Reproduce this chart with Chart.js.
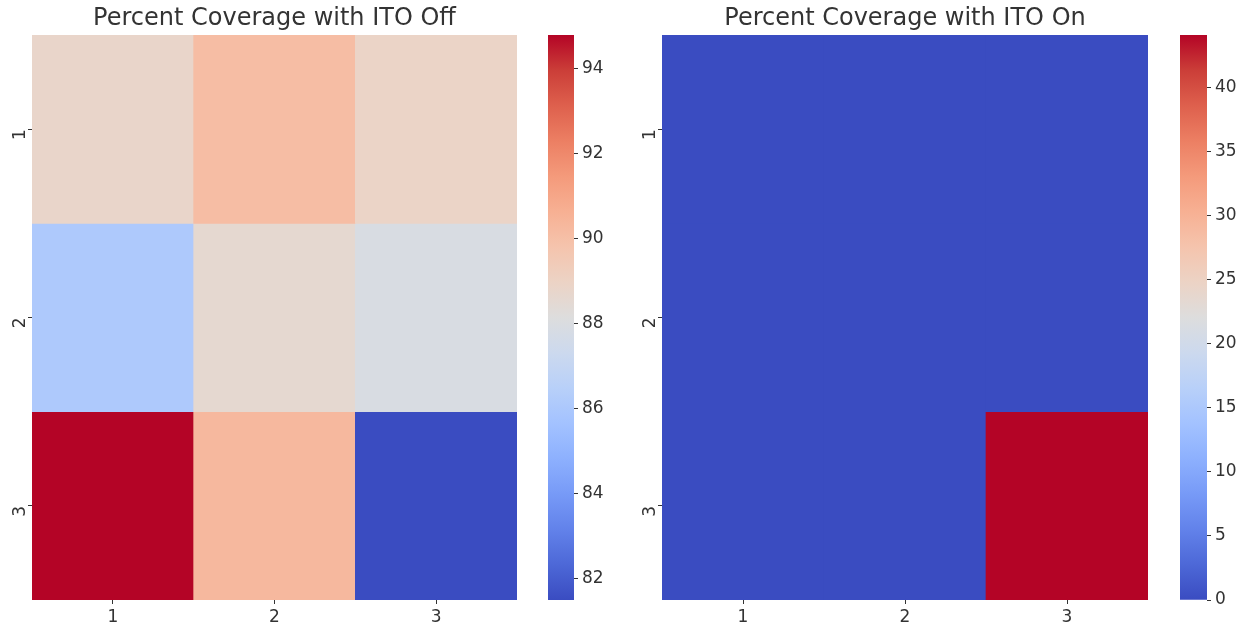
<!DOCTYPE html>
<html><head><meta charset="utf-8">
<script src="https://cdn.jsdelivr.net/npm/chart.js@4"></script>
<style>
body{margin:0;background:#fff;width:1245px;height:625px;position:relative;overflow:hidden}
.box{position:absolute;top:0;height:625px}
</style></head><body>
<div class="box" style="left:0;width:530px"><canvas id="h1"></canvas></div>
<div class="box" style="left:530px;width:90px"><canvas id="c1"></canvas></div>
<div class="box" style="left:630px;width:530px"><canvas id="h2"></canvas></div>
<div class="box" style="left:1160px;width:85px"><canvas id="c2"></canvas></div>
<script>
// ---- data ----
const rowLabels = ['1', '2', '3'];
const colLabels = ['1', '2', '3'];
const offValues = [
  [88.8, 90.1, 88.9],
  [86.1, 88.6, 87.9],
  [94.8, 90.3, 81.5]
];
const onValues = [
  [0, 0, 0],
  [0, 0, 0],
  [0, 0, 44.1]
];
const offTicks = [82, 84, 86, 88, 90, 92, 94];
const onTicks = [0, 5, 10, 15, 20, 25, 30, 35, 40];
const titles = ['Percent Coverage with ITO Off', 'Percent Coverage with ITO On'];

// ---- coolwarm colormap ----
const CW = [
  [58,76,193],[77,104,215],[98,130,234],[119,154,247],[141,176,254],[163,194,255],
  [184,208,249],[204,217,238],[221,221,221],[236,211,197],[245,196,173],[247,176,147],
  [244,154,123],[236,127,99],[222,96,77],[203,62,56],[180,4,38]
];
function coolwarm(t) {
  t = Math.max(0, Math.min(1, t));
  const p = t * (CW.length - 1), i = Math.min(CW.length - 2, Math.floor(p)), f = p - i;
  const c = CW[i].map((v, k) => Math.round(v + (CW[i + 1][k] - v) * f));
  return `rgb(${c[0]},${c[1]},${c[2]})`;
}

const TXT = '#333333';
const FONT = 'DejaVu Sans';
Chart.defaults.font.family = FONT;
Chart.defaults.color = TXT;

function heatmap(id, title, values, padRight) {
  const flat = values.flat();
  const vmin = Math.min(...flat), vmax = Math.max(...flat);
  const datasets = rowLabels.map((r, ri) => ({
    data: colLabels.map(() => [ri, ri + 1]),
    backgroundColor: values[ri].map(v => coolwarm((v - vmin) / (vmax - vmin))),
    borderWidth: 0,
    barPercentage: 1,
    categoryPercentage: 1
  }));
  new Chart(document.getElementById(id), {
    type: 'bar',
    data: { labels: colLabels, datasets },
    options: {
      responsive: true, maintainAspectRatio: false, animation: false,
      layout: { padding: { left: 0, right: padRight, top: 0, bottom: 0 } },
      plugins: {
        legend: { display: false }, tooltip: { enabled: false },
        title: { display: true, text: title, fullSize: false, color: TXT,
          font: { size: 24, weight: 'normal', family: FONT }, padding: { top: 4, bottom: 2.2 } }
      },
      scales: {
        x: {
          stacked: true,
          grid: { display: true, drawOnChartArea: false, offset: false, tickLength: 4, color: TXT },
          border: { display: false },
          ticks: { font: { size: 17 }, color: TXT, padding: 3, maxRotation: 0 },
          afterFit: s => { s.height = 25; }
        },
        y: {
          stacked: false, reverse: true, min: 0, max: 3,
          grid: { display: true, drawOnChartArea: false, tickLength: 4, color: TXT },
          border: { display: false },
          afterBuildTicks: s => { s.ticks = rowLabels.map((r, i) => ({ value: i + 0.5 })); },
          ticks: { font: { size: 17 }, color: TXT, minRotation: 90, maxRotation: 90, padding: 7,
            callback: (v, i) => rowLabels[i] },
          afterFit: s => { s.width = 32; }
        }
      }
    }
  });
  return [vmin, vmax];
}

function colorbar(id, range, tickVals, padLeft, axisW) {
  const [vmin, vmax] = range;
  new Chart(document.getElementById(id), {
    type: 'bar',
    data: { labels: [''], datasets: [{
      data: [[vmin, vmax]],
      borderWidth: 0, barPercentage: 1, categoryPercentage: 1,
      backgroundColor: ctx => {
        const a = ctx.chart.chartArea;
        if (!a) return '#ccc';
        const g = ctx.chart.ctx.createLinearGradient(0, a.bottom, 0, a.top);
        CW.forEach((c, i) => g.addColorStop(i / (CW.length - 1), `rgb(${c[0]},${c[1]},${c[2]})`));
        return g;
      }
    }]},
    options: {
      responsive: true, maintainAspectRatio: false, animation: false,
      layout: { padding: { left: padLeft, right: 0, top: 35, bottom: 25 } },
      plugins: { legend: { display: false }, tooltip: { enabled: false } },
      scales: {
        x: { display: false },
        y: {
          position: 'right', min: vmin, max: vmax,
          grid: { display: true, drawOnChartArea: false, tickLength: 4, color: TXT },
          border: { display: false },
          afterBuildTicks: s => { s.ticks = tickVals.map(v => ({ value: v })); },
          ticks: { font: { size: 17 }, color: TXT, padding: 4 },
          afterFit: s => { s.width = axisW; }
        }
      }
    }
  });
}

const r1 = heatmap('h1', titles[0], offValues, 13);
colorbar('c1', r1, offTicks, 18, 46);
const r2 = heatmap('h2', titles[1], onValues, 12);
colorbar('c2', r2, onTicks, 20, 38);
</script>
</body></html>
